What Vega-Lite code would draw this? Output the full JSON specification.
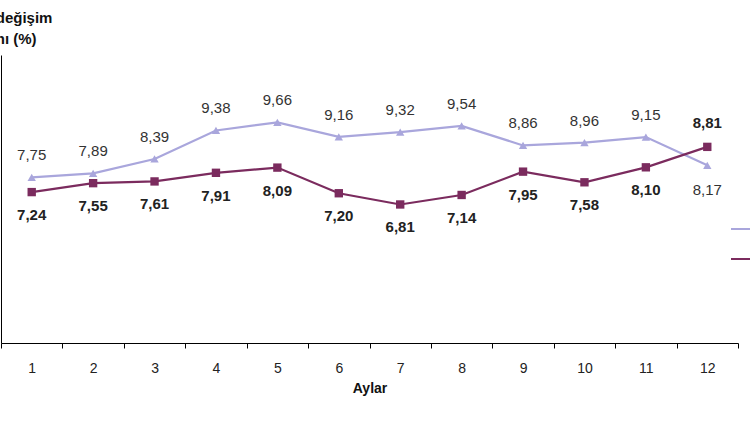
{
  "$schema": "https://vega.github.io/schema/vega-lite/v6.json",
  "width": 737,
  "height": 288,
  "autosize": {"type": "none"},
  "padding": {"left": 1, "top": 55, "right": 12, "bottom": 79},
  "config": {
    "view": {"stroke": null},
    "font": "Liberation Sans",
    "locale": {"number": {"decimal": ",", "thousands": ".", "grouping": [3], "currency": ["", ""]}}
  },
  "title": {
    "text": ["Yıllık değişim", "oranı (%)"],
    "anchor": "start",
    "align": "center",
    "dx": 4,
    "offset": 8,
    "fontSize": 15,
    "fontWeight": "bold",
    "lineHeight": 21,
    "color": "#111"
  },
  "data": {
    "values": [
      {"month": 1, "series": "2023", "value": 7.75},
      {"month": 2, "series": "2023", "value": 7.89},
      {"month": 3, "series": "2023", "value": 8.39},
      {"month": 4, "series": "2023", "value": 9.38},
      {"month": 5, "series": "2023", "value": 9.66},
      {"month": 6, "series": "2023", "value": 9.16},
      {"month": 7, "series": "2023", "value": 9.32},
      {"month": 8, "series": "2023", "value": 9.54},
      {"month": 9, "series": "2023", "value": 8.86},
      {"month": 10, "series": "2023", "value": 8.96},
      {"month": 11, "series": "2023", "value": 9.15},
      {"month": 12, "series": "2023", "value": 8.17},
      {"month": 1, "series": "2024", "value": 7.24},
      {"month": 2, "series": "2024", "value": 7.55},
      {"month": 3, "series": "2024", "value": 7.61},
      {"month": 4, "series": "2024", "value": 7.91},
      {"month": 5, "series": "2024", "value": 8.09},
      {"month": 6, "series": "2024", "value": 7.20},
      {"month": 7, "series": "2024", "value": 6.81},
      {"month": 8, "series": "2024", "value": 7.14},
      {"month": 9, "series": "2024", "value": 7.95},
      {"month": 10, "series": "2024", "value": 7.58},
      {"month": 11, "series": "2024", "value": 8.10},
      {"month": 12, "series": "2024", "value": 8.81}
    ]
  },
  "encoding": {
    "x": {
      "field": "month",
      "type": "ordinal",
      "scale": {"type": "band", "paddingInner": 0, "paddingOuter": 0},
      "axis": {
        "title": "Aylar",
        "tickBand": "extent",
        "domainColor": "#000",
        "tickColor": "#000",
        "tickSize": 5,
        "labelAngle": 0,
        "labelFontSize": 14,
        "labelColor": "#222",
        "labelPadding": 13,
        "titleFontSize": 14,
        "titleFontWeight": "bold",
        "titleColor": "#111",
        "titlePadding": 6,
        "grid": false
      }
    },
    "y": {
      "field": "value",
      "type": "quantitative",
      "scale": {"domain": [2, 12]},
      "axis": {"title": null, "labels": false, "ticks": false, "grid": false, "domainColor": "#000"}
    }
  },
  "layer": [
    {
      "mark": {"type": "line", "strokeWidth": 2.2},
      "encoding": {
        "color": {
          "field": "series",
          "type": "nominal",
          "scale": {"domain": ["2023", "2024"], "range": ["#a9a6dc", "#7b2b5e"]},
          "legend": {
            "orient": "none",
            "legendX": 729,
            "legendY": 163,
            "title": null,
            "symbolType": "stroke",
            "symbolSize": 400,
            "symbolStrokeWidth": 2,
            "rowPadding": 12,
            "labelOffset": 30,
            "labelFontSize": 13
          }
        }
      }
    },
    {
      "transform": [{"filter": "datum.series == '2023'"}],
      "mark": {"type": "point", "filled": true, "opacity": 1, "size": 70, "shape": "triangle-up", "color": "#a9a6dc"}
    },
    {
      "transform": [{"filter": "datum.series == '2024'"}],
      "mark": {"type": "point", "filled": true, "opacity": 1, "size": 70, "shape": "square", "color": "#7b2b5e"}
    },
    {
      "transform": [{"filter": "datum.series == '2023' && datum.month != 12"}],
      "mark": {"type": "text", "dy": -22, "fontSize": 15, "color": "#333"},
      "encoding": {"text": {"field": "value", "type": "quantitative", "format": ".2f"}}
    },
    {
      "transform": [{"filter": "datum.series == '2023' && datum.month == 12"}],
      "mark": {"type": "text", "dy": 25, "fontSize": 15, "color": "#333"},
      "encoding": {"text": {"field": "value", "type": "quantitative", "format": ".2f"}}
    },
    {
      "transform": [{"filter": "datum.series == '2024' && datum.month != 12"}],
      "mark": {"type": "text", "dy": 23, "fontSize": 15, "fontWeight": "bold", "color": "#222"},
      "encoding": {"text": {"field": "value", "type": "quantitative", "format": ".2f"}}
    },
    {
      "transform": [{"filter": "datum.series == '2024' && datum.month == 12"}],
      "mark": {"type": "text", "dy": -24, "fontSize": 15, "fontWeight": "bold", "color": "#222"},
      "encoding": {"text": {"field": "value", "type": "quantitative", "format": ".2f"}}
    }
  ]
}
